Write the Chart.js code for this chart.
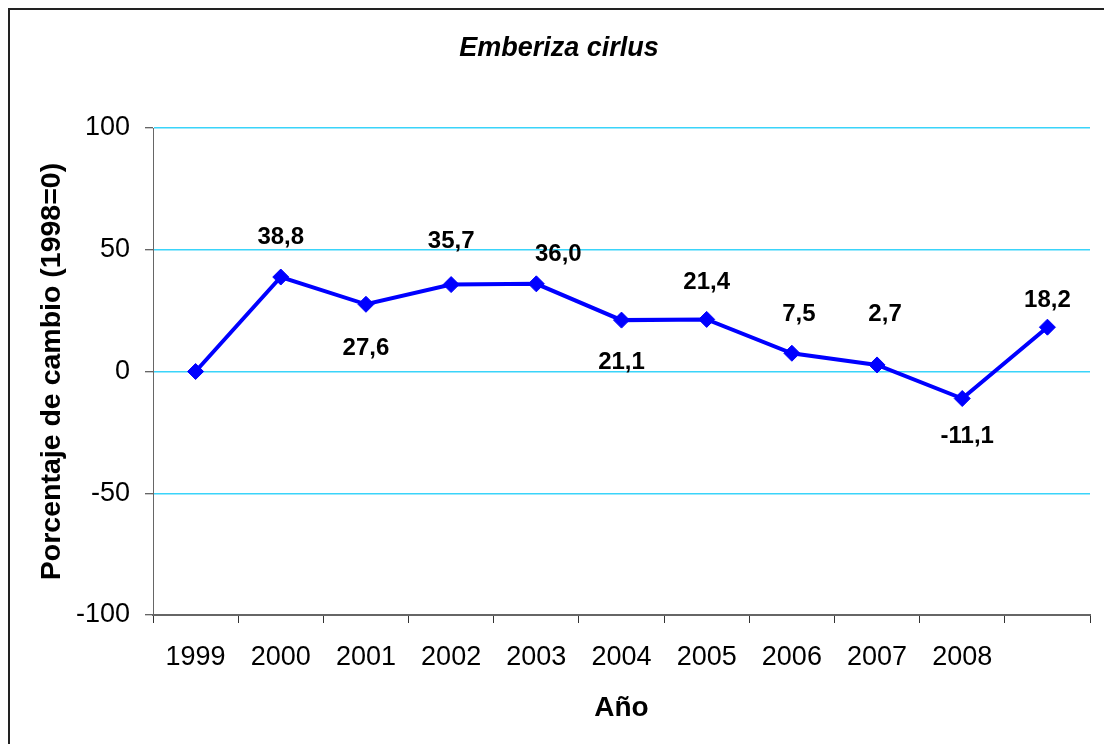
<!DOCTYPE html>
<html>
<head>
<meta charset="utf-8">
<script src="https://cdn.jsdelivr.net/npm/chart.js@4.4.1/dist/chart.umd.min.js"></script>
<style>
  html, body { margin: 0; padding: 0; background: #fff; }
  canvas { display: block; }
</style>
</head>
<body>
<canvas id="trendChart" width="1104" height="744"></canvas>
<script>
const years = ["1999", "2000", "2001", "2002", "2003", "2004", "2005", "2006", "2007", "2008", ""];
const changePct = [0, 38.8, 27.6, 35.7, 36.0, 21.1, 21.4, 7.5, 2.7, -11.1, 18.2];
const yTicks = [-100, -50, 0, 50, 100];

// where each value label sits relative to its point (first point has none)
const labelOffsets = [null, [0, -40], [0, 44], [0, -43], [22, -29], [0, 42], [0, -37], [7, -39], [8, -51], [5, 38], [0, -27]];

const FONT = "'Liberation Sans', Arial, sans-serif";
Chart.defaults.font.family = FONT;
Chart.defaults.color = "#000";

const frame = {
  id: "frame",
  beforeDraw(chart) {
    const c = chart.ctx;
    c.save();
    c.fillStyle = "#fff";
    c.fillRect(0, 0, chart.width, chart.height);
    c.strokeStyle = "#222";
    c.lineWidth = 2;
    c.strokeRect(9, 9, chart.width + 50, chart.height + 50);
    c.restore();
  }
};

const valueLabels = {
  id: "valueLabels",
  afterDatasetsDraw(chart) {
    const c = chart.ctx;
    const pts = chart.getDatasetMeta(0).data;
    c.save();
    c.font = "bold 24px " + FONT;
    c.fillStyle = "#000";
    c.textAlign = "center";
    c.textBaseline = "middle";
    pts.forEach((p, i) => {
      const off = labelOffsets[i];
      if (!off) return;
      const txt = changePct[i].toFixed(1).replace(".", ",");
      c.fillText(txt, p.x + off[0], p.y + off[1]);
    });
    c.restore();
  }
};

const ctx = document.getElementById("trendChart");

new Chart(ctx, {
  type: "line",
  data: {
    labels: years,
    datasets: [{
      data: changePct,
      borderColor: "#0000ff",
      backgroundColor: "#0000ff",
      borderWidth: 4,
      pointStyle: "rectRot",
      pointRadius: 8,
      pointBorderWidth: 1,
      pointBackgroundColor: "#0000ff",
      pointBorderColor: "#0000ff",
      tension: 0,
      fill: false
    }]
  },
  options: {
    responsive: false,
    animation: false,
    devicePixelRatio: 1,
    layout: {
      padding: { left: 28, right: 14, top: 0, bottom: 0 }
    },
    plugins: {
      legend: { display: false },
      tooltip: { enabled: false },
      title: {
        display: true,
        text: "Emberiza cirlus",
        color: "#000",
        font: { size: 27, weight: "bold", style: "italic" },
        padding: { top: 32, bottom: 63.6 }
      }
    },
    scales: {
      x: {
        offset: true,
        grid: {
          offset: true,
          drawOnChartArea: false,
          drawTicks: true,
          tickLength: 8,
          tickColor: "#333",
          tickWidth: 1
        },
        border: { color: "#666", width: 2 },
        ticks: {
          autoSkip: false,
          maxRotation: 0,
          padding: 18,
          font: { size: 27 }
        },
        title: {
          display: true,
          text: "Año",
          font: { size: 28, weight: "bold" },
          padding: { top: 0, bottom: 19 }
        },
        afterFit(scale) { scale.height = 129; }
      },
      y: {
        min: -100,
        max: 100,
        afterBuildTicks(axis) {
          axis.ticks = yTicks.map(v => ({ value: v }));
        },
        grid: {
          color: "#3ad4fa",
          lineWidth: 1.5,
          tickLength: 8,
          tickColor: "#333",
          tickWidth: 1
        },
        border: { color: "#666", width: 1 },
        ticks: {
          padding: 15,
          font: { size: 27 }
        },
        title: {
          display: true,
          text: "Porcentaje de cambio (1998=0)",
          font: { size: 28.5, weight: "bold" },
          padding: { top: 7, bottom: 0 }
        },
        afterFit(scale) { scale.width = 125; }
      }
    }
  },
  plugins: [frame, valueLabels]
});
</script>
</body>
</html>
